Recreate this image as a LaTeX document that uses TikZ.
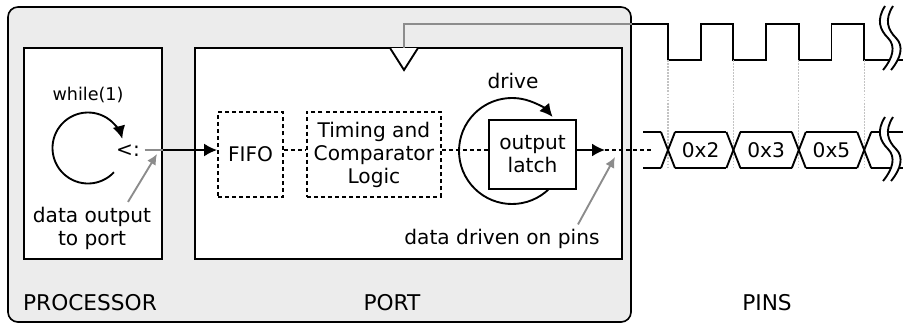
\documentclass[tikz,border=0pt]{standalone}
\usepackage{fontspec}
\setmainfont{DejaVu Sans}
\usepackage{tikz}
\usetikzlibrary{positioning}
\usetikzlibrary{calc}
\usetikzlibrary{arrows.meta}
\definecolor{panelgray}{RGB}{236,236,236}
\definecolor{notegray}{RGB}{140,140,140}
\definecolor{tickgray}{RGB}{195,195,195}
\tikzset{box/.style={draw,line width=1.8pt,fill=white,inner sep=0pt,align=center},
 dbox/.style={draw,line width=1.6pt,dash pattern=on 3.4pt off 2.6pt,inner sep=0pt,align=center},
 dline/.style={line width=1.6pt,dash pattern=on 3.4pt off 2.6pt},
 arr/.style={-{Latex[length=11pt,width=11pt]}},
 notearrow/.style={notegray,line width=1.6pt,-{Latex[length=9pt,width=8.5pt]}},
 tick/.style={tickgray,line width=0.9pt,dash pattern=on 1.6pt off 1pt}}

\begin{document}
\begin{tikzpicture}[x=0.03cm,y=0.03cm,line width=1.6pt,font=\fontsize{17.2}{19.6}\selectfont]
\useasboundingbox (0,0) rectangle (903,-326);
\node (chip) [draw,fill=panelgray,rounded corners=0.3cm,minimum width=18.69cm,minimum height=9.45cm,line width=1.4pt] at (319.5,-164.5) {};
\node (proc) [box,minimum width=4.14cm,minimum height=6.33cm] at (93,-153.5) {};
\node (port) [box,minimum width=12.81cm,minimum height=6.33cm] at (408.5,-153.5) {};
\node (procname) [font=\fontsize{18.5}{20}\selectfont] at (90,-303) {PROCESSOR};
\node (portname) [font=\fontsize{18.5}{20}\selectfont] at (392,-303) {PORT};
\node (pinsname) [font=\fontsize{18.5}{20}\selectfont] at (767,-303) {PINS};
\coordinate (bus) at (0,-150);

% processor loop
\node (loop) [font=\fontsize{15}{18}\selectfont] at (88,-95) {while(1)};
\coordinate (loopc) at (88,-148);
\draw[arr] (loopc) ++(-43:35.5) arc (-43:-345:35.5);
\node (op) at (128,-151) {<:};
\node (outtxt) [align=center] at (92,-228) {data output\\to port};
\draw[notegray] (op.east |- bus) -- (proc.east |- bus);
\coordinate (optip) at (157,-154);
\draw[notearrow] (outtxt.north) ++(36,0) -- (optip);

% port pipeline
\node (fifo) [dbox,minimum width=1.95cm,minimum height=2.55cm] at (250.5,-154.5) {FIFO};
\node (tcl) [dbox,minimum width=4.02cm,minimum height=2.55cm,right=0.66cm of fifo] {Timing and\\Comparator\\Logic};
\draw[arr] (proc.east |- bus) -- (fifo.west |- bus);
\draw[dline] (fifo.east |- bus) -- (tcl.west |- bus);
\coordinate (drivec) at (512,-151);
\draw[arr] (drivec) ++(-45:53) arc (-45:-320:53);
\draw[dline] (tcl.east |- bus) -- (drivec |- bus);
\node (latch) [box,minimum width=2.61cm,minimum height=2.07cm] at (532.5,-154.5) {output\\latch};
\node (drv) at (513,-81) {drive};
\coordinate (pinin) at (605,-150);
\coordinate (busend) at (653,-150);
\draw[arr] (latch.east |- bus) -- (pinin);
\draw[dline] (pinin) -- (busend);
\node (pintxt) at (502,-239) {data driven on pins};
\coordinate (pintip) at (615,-157);
\draw[notearrow] (pintxt.north) ++(76,0) -- (pintip);

% clock input
\coordinate (clkin) at (404,-48);
\draw[notegray] (clkin) |- (chip.east |- 0,-24);
\draw[fill=white] (clkin) ++(-14,0) -- ++(14,-22) -- ++(14,22);

% clock waveform
\draw (chip.east |- 0,-24) \foreach \k in {0,1,2} { -- ({668+65.4*\k},-24) -- ({668+65.4*\k},-60) -- ({700.7+65.4*\k},-60) -- ({700.7+65.4*\k},-24) } -- (864,-24) -- (864,-60) -- (903,-60);
\foreach \k in {0,...,3}
  \draw[tick] ({668+65.4*\k},-60) -- ({668+65.4*\k},-167);

% data on pins
\draw (643,-132) -- (661,-132);
\draw (643,-168) -- (661,-168);
\foreach \k in {0,...,3} {
  \draw ({661+65.4*\k},-132) -- ({675+65.4*\k},-168);
  \draw ({661+65.4*\k},-168) -- ({675+65.4*\k},-132);
}
\foreach \k in {0,1,2} {
  \draw ({675+65.4*\k},-132) -- ({726.4+65.4*\k},-132);
  \draw ({675+65.4*\k},-168) -- ({726.4+65.4*\k},-168);
}
\draw (871,-132) -- (903,-132);
\draw (871,-168) -- (903,-168);
\node (v2) at (700.7,-150) {0x2};
\node (v3) at (766.1,-150) {0x3};
\node (v5) at (831.5,-150) {0x5};

% breaks
\foreach \dy in {0,111} {
  \begin{scope}[shift={(0,-\dy)}]
  \fill[white] (885,-6) .. controls (876,-20) and (880,-30) .. (888,-38) .. controls (896,-46) and (893,-58) .. (883,-70) -- (891,-70) .. controls (901,-58) and (904,-46) .. (896,-38) .. controls (888,-30) and (884,-20) .. (893,-6) -- cycle;
  \draw (885,-6) .. controls (876,-20) and (880,-30) .. (888,-38) .. controls (896,-46) and (893,-58) .. (883,-70);
  \draw (893,-6) .. controls (884,-20) and (888,-30) .. (896,-38) .. controls (904,-46) and (901,-58) .. (891,-70);
  \end{scope}
}
\end{tikzpicture}
\end{document}
